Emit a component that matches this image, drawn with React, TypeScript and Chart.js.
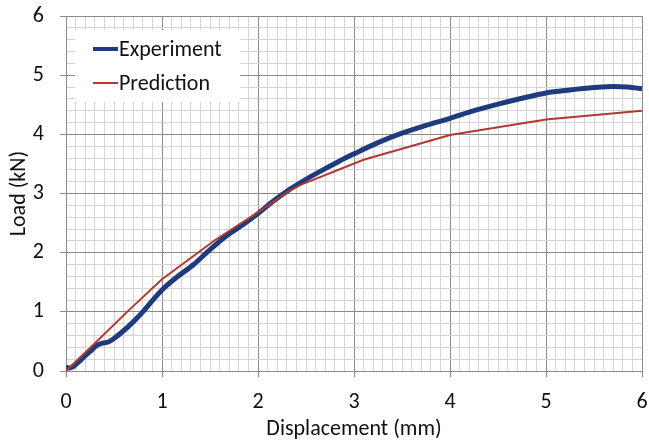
import React, { useEffect, useRef } from "react";
import { Chart, registerables } from "chart.js";

Chart.register(...registerables);

const expX = [0, 0.03, 0.08, 0.15, 0.25, 0.33, 0.38, 0.44, 0.5, 0.6, 0.7, 0.8, 0.9, 1.0, 1.15, 1.33, 1.5, 1.67, 1.85, 2.0, 2.15, 2.33, 2.5, 2.7, 2.85, 3.0, 3.25, 3.5, 3.75, 4.0, 4.25, 4.5, 4.75, 5.0, 5.25, 5.5, 5.7, 5.85, 6.0];
const expY = [0.07, 0.05, 0.08, 0.18, 0.33, 0.44, 0.47, 0.49, 0.55, 0.68, 0.83, 1.0, 1.19, 1.37, 1.58, 1.8, 2.05, 2.28, 2.48, 2.66, 2.86, 3.07, 3.24, 3.42, 3.55, 3.67, 3.86, 4.02, 4.15, 4.27, 4.4, 4.51, 4.61, 4.7, 4.75, 4.79, 4.81, 4.8, 4.77];

const predX = [0, 0.32, 0.65, 1.0, 1.55, 2.0, 2.33, 2.45, 3.1, 4.0, 5.0, 6.0];
const predY = [0, 0.5, 1.02, 1.55, 2.21, 2.68, 3.05, 3.15, 3.57, 3.99, 4.25, 4.4];

const seriesNames = ["Experiment", "Prediction"];
const xTitle = "Displacement (mm)";
const yTitle = "Load (kN)";

const FONT = "Calibri, Carlito, Lato, 'Open Sans', sans-serif";
const FS = 22;
const BLUE = "#1f3a7d";
const RED = "#b03a32";
const MAJOR = "#8a8a8a";
const MINOR = "#d4d4d4";

const isMajor = (v: number) => Math.abs(v - Math.round(v)) < 1e-6;

const legendPlugin = {
  id: "insideLegend",
  afterDatasetsDraw(chart: any) {
    const { ctx, chartArea } = chart;
    const x0 = chartArea.left + 9;
    const y0 = chartArea.top + 14;
    ctx.save();
    ctx.fillStyle = "#ffffff";
    ctx.fillRect(x0, y0, 165, 72);
    const items = [
      { label: seriesNames[0], color: BLUE, width: 4, y: y0 + 19 },
      { label: seriesNames[1], color: RED, width: 2, y: y0 + 53 },
    ];
    items.forEach((it) => {
      ctx.strokeStyle = it.color;
      ctx.lineWidth = it.width;
      ctx.beginPath();
      ctx.moveTo(x0 + 18, it.y);
      ctx.lineTo(x0 + 43, it.y);
      ctx.stroke();
      ctx.fillStyle = "#111";
      ctx.font = `${FS}px ${FONT}`;
      ctx.textBaseline = "middle";
      ctx.textAlign = "left";
      ctx.fillText(it.label, x0 + 44, it.y + 1);
    });
    ctx.restore();
  },
};

export default function App() {
  const ref = useRef<HTMLCanvasElement | null>(null);
  useEffect(() => {
    if (!ref.current) return;
    const chart = new Chart(ref.current, {
      type: "line",
      data: {
        datasets: [
          {
            label: seriesNames[0],
            data: expX.map((x, i) => ({ x, y: expY[i] })),
            borderColor: BLUE,
            backgroundColor: BLUE,
            borderWidth: 5,
            pointRadius: 0,
            cubicInterpolationMode: "monotone",
            order: 1,
          },
          {
            label: seriesNames[1],
            data: predX.map((x, i) => ({ x, y: predY[i] })),
            borderColor: RED,
            backgroundColor: RED,
            borderWidth: 2,
            pointRadius: 0,
            tension: 0,
            order: 0,
          },
        ],
      },
      options: {
        responsive: false,
        animation: false,
        layout: { padding: { top: 16, right: 7, left: 0, bottom: 0 } },
        plugins: { legend: { display: false }, tooltip: { enabled: false } },
        scales: {
          x: {
            type: "linear",
            min: 0,
            max: 6,
            afterFit: (s: any) => {
              s.height = 72;
              s.paddingLeft = 0;
              s.paddingRight = 0;
            },
            ticks: {
              stepSize: 0.1,
              autoSkip: false,
              maxRotation: 0,
              minRotation: 0,
              padding: 12,
              color: "#111",
              font: { family: FONT, size: FS },
              callback: (v: any) => (isMajor(Number(v)) ? String(Math.round(Number(v))) : ""),
            },
            grid: {
              color: (c: any) => (isMajor(c.tick?.value ?? 0) ? MAJOR : MINOR),
              tickColor: (c: any) => (isMajor(c.tick?.value ?? 0) ? MAJOR : "rgba(0,0,0,0)"),
              tickLength: 6,
              lineWidth: 1,
            },
            border: { color: MAJOR },
            title: {
              display: true,
              text: xTitle,
              color: "#111",
              font: { family: FONT, size: FS },
              padding: { top: 2, bottom: 0 },
            },
          },
          y: {
            type: "linear",
            min: 0,
            max: 6,
            afterFit: (s: any) => {
              s.width = 66;
              s.paddingTop = 0;
              s.paddingBottom = 0;
            },
            ticks: {
              stepSize: 0.2,
              autoSkip: false,
              padding: 16,
              color: "#111",
              font: { family: FONT, size: FS },
              callback: (v: any) => (isMajor(Number(v)) ? String(Math.round(Number(v))) : ""),
            },
            grid: {
              color: (c: any) => (isMajor(c.tick?.value ?? 0) ? MAJOR : MINOR),
              tickColor: (c: any) => (isMajor(c.tick?.value ?? 0) ? MAJOR : "rgba(0,0,0,0)"),
              tickLength: 6,
              lineWidth: 1,
            },
            border: { color: MAJOR },
            title: {
              display: true,
              text: yTitle,
              color: "#111",
              font: { family: FONT, size: FS },
              padding: { top: 6, bottom: 0 },
            },
          },
        },
      },
      plugins: [legendPlugin],
    });
    return () => chart.destroy();
  }, []);
  return (
    <div style={{ position: "absolute", left: 0, top: 0, width: 649, height: 443, background: "#fff" }}>
      <canvas ref={ref} width={649} height={443} style={{ display: "block" }} />
    </div>
  );
}
